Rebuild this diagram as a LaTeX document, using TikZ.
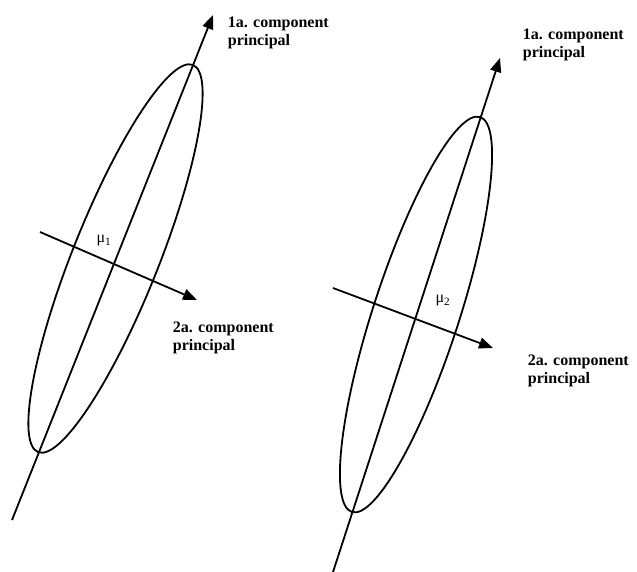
\documentclass[tikz,border=0pt]{standalone}
\usepackage{fontspec}
\setmainfont{Liberation Serif}
\usepackage{tikz}
\usetikzlibrary{arrows.meta}

\begin{document}
\begin{tikzpicture}[x=1pt,y=-1pt,line width=1.8pt,
    axisline/.style={-{Triangle[length=14pt,width=11pt]}},
    complabel/.style={anchor=base west,align=left,inner sep=0pt,font=\fontsize{16}{18}\selectfont\bfseries},
    meanlabel/.style={inner sep=0pt,font=\fontsize{16}{18}\selectfont}]
  \useasboundingbox (0,0) rectangle (637,572);
  % left cluster
  \draw[shift={(115.5,258.5)},rotate=68.2] (0,0) ellipse [x radius=208.5,y radius=43];
  \coordinate (pcaLs) at (12,520);
  \coordinate (pcaLe) at (213,15);
  \coordinate (pcbLs) at (40,232);
  \coordinate (pcbLe) at (197,300);
  \draw[axisline] (pcaLs) -- (pcaLe);
  \draw[axisline] (pcbLs) -- (pcbLe);
  \node[meanlabel] (muL) at (104,241) {μ\textsubscript{1}};
  \node[complabel] (pcaLlab) at (227,46) {1a. component\\principal};
  \node[complabel] (pcbLlab) at (172,350) {2a. component\\principal};
  % right cluster
  \draw[shift={(416,314.5)},rotate=72] (0,0) ellipse [x radius=207.6,y radius=43];
  \coordinate (pcaRs) at (333,572);
  \coordinate (pcaRe) at (500,58);
  \coordinate (pcbRs) at (333,288);
  \coordinate (pcbRe) at (493,348);
  \draw[axisline] (pcaRs) -- (pcaRe);
  \draw[axisline] (pcbRs) -- (pcbRe);
  \node[meanlabel] (muR) at (443,301) {μ\textsubscript{2}};
  \node[complabel] (pcaRlab) at (522,58) {1a. component\\principal};
  \node[complabel] (pcbRlab) at (527,383) {2a. component\\principal};
\end{tikzpicture}
\end{document}
